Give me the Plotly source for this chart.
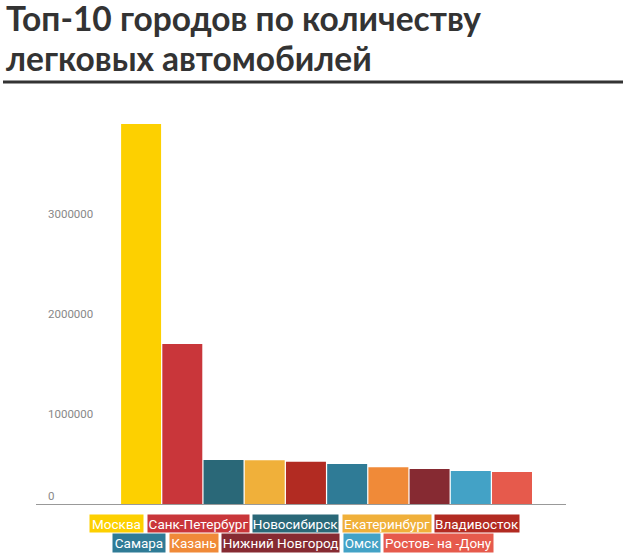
import plotly.graph_objects as go

# ---- data ----
cities = ["Москва", "Санк-Петербург", "Новосибирск", "Екатеринбург", "Владивосток",
          "Самара", "Казань", "Нижний Новгород", "Омск", "Ростов- на -Дону"]
cars = [3800000, 1600000, 440000, 437000, 423000, 400000, 367000, 350000, 330000, 320000]
colors = ["#FDD000", "#C9363A", "#2A6878", "#F0B03A", "#B22B22",
          "#2F7B96", "#F08A38", "#862A32", "#43A2C6", "#E65A4C"]
ytick_vals = [1000000, 2000000, 3000000]
ytick_text = ["1000000", "2000000", "3000000"]

title_line1 = "Топ-10 городов по количеству"
title_line2 = "легковых автомобилей"

# ---- layout geometry (pixels) ----
W, H = 628, 560
L, R, T, B = 36, 62, 110, 56
PW, PH = W - L - R, H - T - B
YMAX = 3940000

def xp(px):  # pixel x -> paper
    return (px - L) / PW

def yp(py):  # pixel y -> paper
    return (H - B - py) / PH

fig = go.Figure()
fig.add_trace(go.Bar(
    x=list(range(len(cities))), y=cars, marker=dict(color=colors, line=dict(width=0)),
    hoverinfo="skip", showlegend=False,
))
fig.add_trace(go.Scatter(x=[0], y=[0], yaxis="y2", mode="markers",
                         marker=dict(opacity=0), hoverinfo="skip", showlegend=False))

narrow = "Roboto, sans-serif"

annotations = []
annotations.append(dict(text="<b>" + title_line1 + "</b>", xref="paper", yref="paper",
                        x=xp(4), y=yp(18), xanchor="left", yanchor="middle", showarrow=False,
                        font=dict(family="Lato, sans-serif", size=33.5, color="#333333")))
annotations.append(dict(text="<b>" + title_line2 + "</b>", xref="paper", yref="paper",
                        x=xp(4), y=yp(58), xanchor="left", yanchor="middle", showarrow=False,
                        font=dict(family="Lato, sans-serif", size=33.5, color="#333333")))

# legend boxes
box_w = [53, 101, 85, 88, 84, 52, 48, 117, 36, 109]
rows = [(list(range(0, 5)), 89, 523, 17), (list(range(5, 10)), 112, 543, 18)]
gap = 4.5
for idxs, x0, yc, h in rows:
    x = x0
    for i in idxs:
        annotations.append(dict(
            text=cities[i], xref="paper", yref="paper", x=xp(x), y=yp(yc),
            xanchor="left", yanchor="middle", showarrow=False,
            width=box_w[i], height=h, borderpad=0, bgcolor=colors[i],
            font=dict(family=narrow, size=13.5, color="white"), align="center"))
        x += box_w[i] + gap

fig.update_layout(
    width=W, height=H, margin=dict(l=L, r=R, t=T, b=B),
    paper_bgcolor="white", plot_bgcolor="white",
    bargap=0.03,
    xaxis=dict(range=[-2.55, 10.31], showticklabels=False, showgrid=False, zeroline=False,
               showline=True, linecolor="#999999", linewidth=1, ticks=""),
    yaxis=dict(range=[0, YMAX], tickvals=ytick_vals, ticktext=ytick_text,
               ticklabelposition="inside", ticklabelstandoff=9, ticklabelshift=10,
               showgrid=False, zeroline=False, showline=False, ticks="",
               tickfont=dict(family="Roboto, sans-serif", size=11.5, color="#888888")),
    yaxis2=dict(range=[0, YMAX], overlaying="y", side="left", tickvals=[0], ticktext=["0"],
                ticklabelposition="inside top", ticklabelstandoff=9,
                showgrid=False, zeroline=False, showline=False, ticks="",
                tickfont=dict(family="Roboto, sans-serif", size=11.5, color="#888888")),
    annotations=annotations,
    shapes=[dict(type="line", xref="paper", yref="paper", x0=xp(3), x1=xp(623),
                 y0=yp(82), y1=yp(82), line=dict(color="#333333", width=3))],
)

fig.write_html("out.html", config={"displayModeBar": False},
               post_script="document.body.style.margin='0';document.body.style.overflow='hidden';")
